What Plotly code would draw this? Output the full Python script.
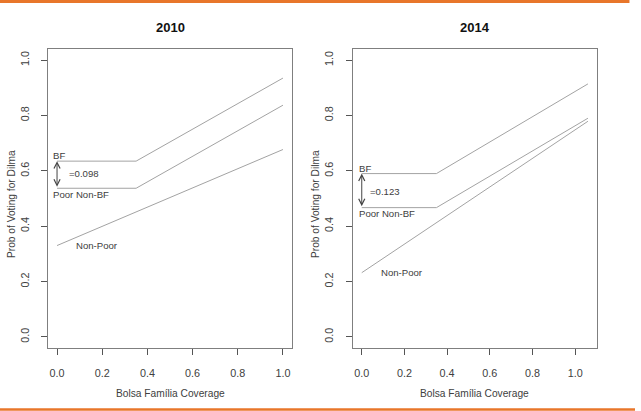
import plotly.graph_objects as go

W, H = 641, 411

# ---- data ----
years = ["2010", "2014"]
x_2010 = [0.0, 0.35, 1.0]
bf_2010 = [0.635, 0.635, 0.935]
poor_2010 = [0.537, 0.537, 0.837]
np_x_2010 = [0.0, 1.0]
nonpoor_2010 = [0.33, 0.677]

x_2014 = [0.0, 0.35, 1.06]
bf_2014 = [0.59, 0.59, 0.914]
poor_2014 = [0.467, 0.467, 0.790]
np_x_2014 = [0.0, 1.06]
nonpoor_2014 = [0.232, 0.779]

gap_labels = ["=0.098", "=0.123"]
series_labels = ["BF", "Poor Non-BF", "Non-Poor"]
tick_vals = [0.0, 0.2, 0.4, 0.6, 0.8, 1.0]
tick_text = ["0.0", "0.2", "0.4", "0.6", "0.8", "1.0"]
x_title = "Bolsa Família Coverage"
y_title = "Prob of Voting for Dilma"

LINE = "#a3a3a3"
TXT = "#404040"
FONT = "Liberation Sans, Arial, sans-serif"

fig = go.Figure()

panels = [
    dict(x=x_2010, bf=bf_2010, poor=poor_2010, npx=np_x_2010, np=nonpoor_2010, xa="x", ya="y"),
    dict(x=x_2014, bf=bf_2014, poor=poor_2014, npx=np_x_2014, np=nonpoor_2014, xa="x2", ya="y2"),
]
for p in panels:
    for xs, ys in [(p["x"], p["bf"]), (p["x"], p["poor"]), (p["npx"], p["np"])]:
        fig.add_trace(go.Scatter(x=xs, y=ys, mode="lines", xaxis=p["xa"], yaxis=p["ya"],
                                 line=dict(color=LINE, width=1), showlegend=False, hoverinfo="skip"))

ydom = [1 - 348 / H, 1 - 49 / H]
xdoms = [[48 / W, 292 / W], [352.7 / W, 597 / W]]
xranges = [[-0.04, 1.04], [-0.0424, 1.1024]]

axis_common = dict(showline=True, mirror=True, linecolor="#7f7f7f", linewidth=1,
                   ticks="outside", ticklen=6, tickcolor="#555555", tickwidth=1,
                   showgrid=False, zeroline=False,
                   tickvals=tick_vals, ticktext=tick_text,
                   tickfont=dict(family=FONT, size=10.8, color=TXT))

layout = dict(width=W, height=H, margin=dict(l=0, r=0, t=0, b=0),
              paper_bgcolor="white", plot_bgcolor="white", showlegend=False)
for i in range(2):
    sx = "" if i == 0 else "2"
    layout["xaxis" + sx] = dict(axis_common, domain=xdoms[i], range=xranges[i],
                                anchor="y" + sx, ticklabelstandoff=9)
    layout["yaxis" + sx] = dict(axis_common, domain=ydom, range=[-0.04, 1.04],
                                anchor="x" + sx, tickangle=-90, ticklabelstandoff=8)
fig.update_layout(**layout)

ann = []
# titles and axis titles
for i in range(2):
    cx = (xdoms[i][0] + xdoms[i][1]) / 2
    ann.append(dict(text="<b>%s</b>" % years[i], x=cx, y=1 - 27 / H, xref="paper", yref="paper",
                    showarrow=False, font=dict(family=FONT, size=13, color="#111111"),
                    xanchor="center", yanchor="middle"))
    ann.append(dict(text=x_title, x=cx, y=1 - 393 / H, xref="paper", yref="paper",
                    showarrow=False, font=dict(family=FONT, size=10.2, color=TXT),
                    xanchor="center", yanchor="middle"))
for yx in (11 / W, 315 / W):
    ann.append(dict(text=y_title, x=yx, y=1 - 204 / H, xref="paper", yref="paper",
                    textangle=-90, showarrow=False, font=dict(family=FONT, size=10.2, color=TXT),
                    xanchor="center", yanchor="middle"))

# series labels + gap arrows
label_pos = [
    dict(bf=(-0.025, 0.656), gap=(0.044, 0.59), poor=(-0.025, 0.514), np=(0.075, 0.33)),
    dict(bf=(-0.022, 0.609), gap=(0.03, 0.527), poor=(-0.022, 0.447), np=(0.081, 0.232)),
]
for i, p in enumerate(panels):
    lp = label_pos[i]
    f = dict(family=FONT, size=9.6, color=TXT)
    for key, txt in zip(["bf", "poor", "np"], series_labels):
        ann.append(dict(text=txt, x=lp[key][0], y=lp[key][1], xref=p["xa"], yref=p["ya"],
                        showarrow=False, font=f, xanchor="left", yanchor="middle"))
    ann.append(dict(text=gap_labels[i], x=lp["gap"][0], y=lp["gap"][1], xref=p["xa"], yref=p["ya"],
                    showarrow=False, font=f, xanchor="left", yanchor="middle"))
    ann.append(dict(text="", x=p["x"][0], y=p["bf"][0], ax=p["x"][0], ay=p["poor"][0],
                    xref=p["xa"], yref=p["ya"], axref=p["xa"], ayref=p["ya"],
                    showarrow=True, arrowside="end+start", arrowhead=5, startarrowhead=5,
                    arrowsize=1.2, startarrowsize=1.2, arrowwidth=1, arrowcolor="#444444",
                    standoff=0, startstandoff=0))
fig.update_layout(annotations=ann)

fig.update_layout(shapes=[
    dict(type="line", xref="paper", yref="paper", x0=0, x1=0.982, y0=1 - 1.5 / H, y1=1 - 1.5 / H,
         line=dict(color="#E8762A", width=3)),
    dict(type="line", xref="paper", yref="paper", x0=0, x1=635 / W, y0=1 - 409.5 / H, y1=1 - 409.5 / H,
         line=dict(color="#E8762A", width=2.5)),
])

fig.write_html("out.html")
